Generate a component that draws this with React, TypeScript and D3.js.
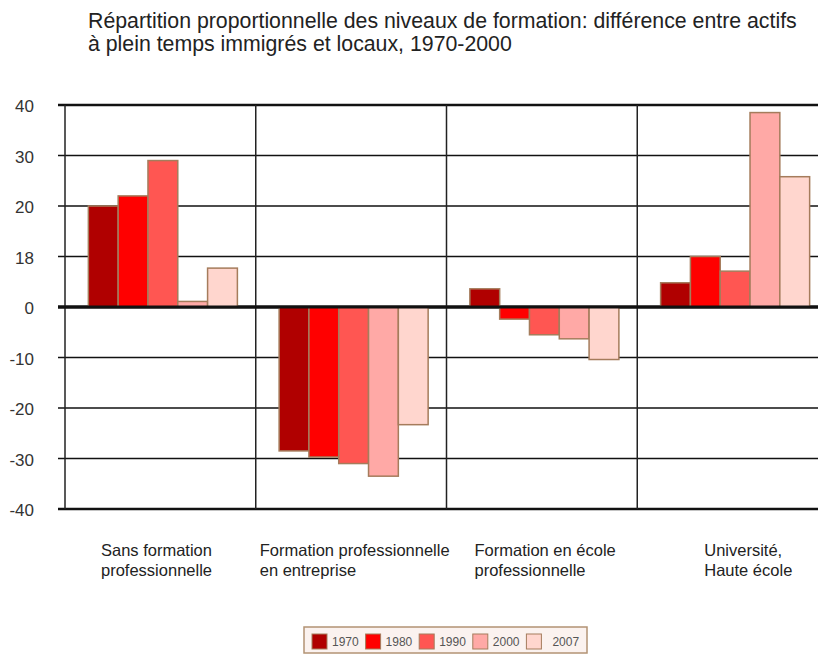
import React, { useEffect, useRef } from 'react';
import * as d3 from 'd3';

const titleLines = [
  'Répartition proportionnelle des niveaux de formation: différence entre actifs',
  'à plein temps immigrés et locaux, 1970-2000',
];

const categories = [
  ['Sans formation', 'professionnelle'],
  ['Formation professionnelle', 'en entreprise'],
  ['Formation en école', 'professionnelle'],
  ['Université,', 'Haute école'],
];

const years = ['1970', '1980', '1990', '2000', '2007'];

// one row per category, one value per year
const values = [
  [20, 22, 29, 1.1, 7.7],
  [-28.5, -29.7, -31, -33.5, -23.3],
  [3.6, -2.4, -5.5, -6.3, -10.4],
  [4.8, 10, 7.1, 38.5, 25.8],
];

const yTicks = [40, 30, 20, 10, 0, -10, -20, -30, -40];
const yTickLabels = ['40', '30', '20', '18', '0', '-10', '-20', '-30', '-40'];

const colors = ['#B00000', '#FF0000', '#FF5652', '#FFA9A6', '#FFD6CE'];

const App = () => {
  const svgRef = useRef<SVGSVGElement>(null);

  useEffect(() => {
    const width = 818;
    const height = 657;
    const svg = d3.select(svgRef.current);
    svg.selectAll('*').remove();
    svg.attr('width', width).attr('height', height);

    const font = '"Liberation Sans", Arial, sans-serif';

    const groupStep = 190.75;
    const x0 = d3.scaleBand<number>()
      .domain(d3.range(categories.length))
      .range([65, 65 + groupStep * categories.length])
      .padding(0);

    const x1 = d3.scaleBand<string>()
      .domain(years)
      .range([0, x0.bandwidth()])
      .paddingInner(0)
      .paddingOuter(0.7)
      .align(0.56);

    const y = d3.scaleLinear().domain([-40, 40]).range([509, 105]);

    // title
    svg.append('g')
      .selectAll('text')
      .data(titleLines)
      .enter()
      .append('text')
      .attr('x', 88)
      .attr('y', (d, i) => 28 + i * 23)
      .attr('font-family', font)
      .attr('font-size', 21.3)
      .attr('fill', '#222')
      .text(d => d);

    // horizontal grid
    svg.append('g')
      .selectAll('line')
      .data(yTicks)
      .enter()
      .append('line')
      .attr('x1', 58)
      .attr('x2', width)
      .attr('y1', d => y(d))
      .attr('y2', d => y(d))
      .attr('stroke', '#111')
      .attr('stroke-width', d => (d === 0 ? 3 : Math.abs(d) === 40 ? 2.5 : 1.5));

    // vertical separators
    svg.append('g')
      .selectAll('line')
      .data(d3.range(categories.length))
      .enter()
      .append('line')
      .attr('x1', d => x0(d)!)
      .attr('x2', d => x0(d)!)
      .attr('y1', y(40))
      .attr('y2', y(-40))
      .attr('stroke', '#222')
      .attr('stroke-width', 1.5);

    // y tick labels
    svg.append('g')
      .selectAll('text')
      .data(yTicks)
      .enter()
      .append('text')
      .attr('x', 34)
      .attr('y', d => y(d) + 7)
      .attr('text-anchor', 'end')
      .attr('font-family', font)
      .attr('font-size', 17)
      .attr('fill', '#333')
      .text((d, i) => yTickLabels[i]);

    // bars
    const groups = svg.append('g')
      .selectAll('g')
      .data(values)
      .enter()
      .append('g')
      .attr('transform', (d, i) => `translate(${x0(i)},0)`);

    groups.selectAll('rect')
      .data(d => d.map((v, j) => ({ v, year: years[j], j })))
      .enter()
      .append('rect')
      .attr('x', d => x1(d.year)!)
      .attr('width', x1.bandwidth())
      .attr('y', d => y(Math.max(0, d.v)))
      .attr('height', d => Math.abs(y(d.v) - y(0)))
      .attr('fill', d => colors[d.j])
      .attr('stroke', '#A57C5C')
      .attr('stroke-width', 1.5);

    // redraw zero line on top
    svg.append('line')
      .attr('x1', 58)
      .attr('x2', width)
      .attr('y1', y(0))
      .attr('y2', y(0))
      .attr('stroke', '#111')
      .attr('stroke-width', 3);

    // category labels, left aligned inside each group
    const labelOffsets = [36, 4, 28, 67];
    categories.forEach((lines, i) => {
      svg.append('g')
        .selectAll('text')
        .data(lines)
        .enter()
        .append('text')
        .attr('x', x0(i)! + labelOffsets[i])
        .attr('y', (d, k) => 556 + k * 20)
        .attr('font-family', font)
        .attr('font-size', 16.5)
        .attr('fill', '#222')
        .text(d => d);
    });

    // legend
    const legend = svg.append('g').attr('transform', 'translate(304,627)');
    legend.append('rect')
      .attr('width', 283)
      .attr('height', 26)
      .attr('fill', '#FBF2EF')
      .attr('stroke', '#B39374')
      .attr('stroke-width', 1.5);

    const items = legend.selectAll('g.item')
      .data(years)
      .enter()
      .append('g')
      .attr('class', 'item')
      .attr('transform', (d, i) => `translate(${8 + i * 53.6},7)`);

    items.append('rect')
      .attr('width', 15)
      .attr('height', 15)
      .attr('fill', (d, i) => colors[i])
      .attr('stroke', '#A57C5C')
      .attr('stroke-width', 1);

    items.append('text')
      .attr('x', (d, i) => (i === 4 ? 26 : 20))
      .attr('y', 12)
      .attr('font-family', font)
      .attr('font-size', 12)
      .attr('fill', '#555')
      .text(d => d);
  }, []);

  return (
    <svg
      ref={svgRef}
      style={{ position: 'absolute', left: 0, top: 0, display: 'block', background: '#fff' }}
    ></svg>
  );
};

export default App;
